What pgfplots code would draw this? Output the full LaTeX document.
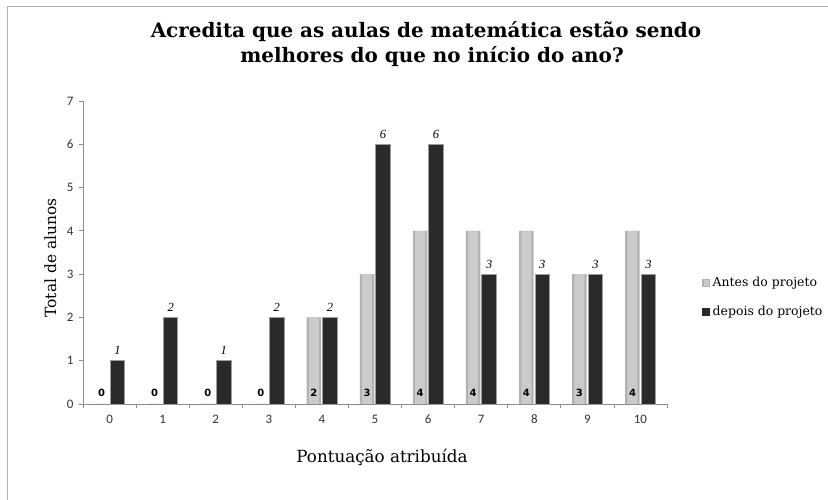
\documentclass[border=0pt]{standalone}
\usepackage{pgfplots}
\pgfplotsset{compat=1.18}
\usepackage{fontspec}
\setmainfont{DejaVu Serif}
\newfontfamily\tickfont{Carlito}
\newfontfamily\valfont{DejaVu Sans}
\newfontfamily\itfont{Liberation Serif}

\definecolor{barEdge}{HTML}{B2B2B2}
\definecolor{barMid}{HTML}{CBCBCB}
\definecolor{barDark}{HTML}{2A2A2A}
\definecolor{darkEdge}{HTML}{9C9C9C}
\definecolor{axisGray}{HTML}{8C8C8C}

\begin{document}
\begin{tikzpicture}[x=1bp,y=1bp]
\useasboundingbox (0,0) rectangle (828,500);
% chart frame
\draw[black!30, line width=0.8bp] (7,-5) -- (7,494) -- (835,494);
% title
\node[anchor=base, font=\bfseries\fontsize{20}{24}\selectfont] at (426,462) {Acredita que as aulas de matemática estão sendo};
\node[anchor=base, font=\bfseries\fontsize{20}{24}\selectfont] at (432,437) {melhores do que no início do ano?};
% axis titles
\node[anchor=base, font=\fontsize{16.8}{20}\selectfont] at (382,37) {Pontuação atribuída};
\node[anchor=base, rotate=90, font=\fontsize{15.5}{18}\selectfont] at (56,242) {Total de alunos};

\begin{axis}[
  at={(83bp,96bp)}, anchor=south west, scale only axis,
  width=584bp, height=303bp,
  xmin=-0.5, xmax=10.5, ymin=0, ymax=7,
  axis x line*=bottom, axis y line*=left,
  axis line style={-, draw=axisGray, line width=0.7bp},
  xtick={-0.5,0.5,...,10.5}, xticklabels={},
  extra x ticks={0,1,...,10},
  extra x tick labels={0,1,2,3,4,5,6,7,8,9,10},
  extra x tick style={major tick length=0pt},
  ytick={0,...,7},
  tick align=outside, major tick length=4bp,
  tick style={draw=axisGray, line width=0.7bp},
  /pgf/number format/assume math mode=true,
  tick label style={font=\tickfont\fontsize{13}{15}\selectfont, text=black!80},
  xticklabel style={font=\tickfont\fontsize{13}{15}\selectfont,
    anchor=base, text height=8bp, text depth=0bp, yshift=-20bp},
  yticklabel style={font=\tickfont\fontsize{13}{15}\selectfont, xshift=-2bp},
  legend style={at={(1.055,0.352)}, anchor=west, draw=none, fill=none,
    font=\fontsize{12.5}{15}\selectfont, row sep=14bp,
    nodes={inner xsep=3bp}},
  legend cell align=left,
  clip=false,
]
\addlegendimage{legend image code/.code={\fill[barEdge] (0bp,-3.5bp) rectangle (7bp,3.5bp);
  \fill[barMid] (1.8bp,-2.5bp) rectangle (5.2bp,2.5bp);}}
\addlegendentry{Antes do projeto}
\addlegendimage{legend image code/.code={\fill[barDark] (0bp,-3.5bp) rectangle (7bp,3.5bp);}}
\addlegendentry{depois do projeto}

% Antes do projeto: outer bar with darker edges
\addplot[ybar, forget plot, bar width=14.5bp, bar shift=-8bp, draw=none, fill=barEdge,
  visualization depends on={y \as \rawy},
  nodes near coords,
  every node near coord/.append style={shift={(axis direction cs:0,-\rawy)},
    anchor=base, yshift=7bp, xshift=-8bp, text=black,
    font=\valfont\bfseries\fontsize{10}{12}\selectfont}]
coordinates {(0,0) (1,0) (2,0) (3,0) (4,2) (5,3) (6,4) (7,4) (8,4) (9,3) (10,4)};
% Antes do projeto: lighter centre strip
\addplot[ybar, forget plot, bar width=10bp, bar shift=-8bp, draw=none, fill=barMid]
coordinates {(0,0) (1,0) (2,0) (3,0) (4,2) (5,3) (6,4) (7,4) (8,4) (9,3) (10,4)};

% depois do projeto
\addplot[ybar, forget plot, bar width=14.5bp, bar shift=8bp,
  fill=barDark, draw=darkEdge, line width=0.9bp,
  nodes near coords,
  every node near coord/.append style={anchor=base, yshift=6bp, xshift=8bp, text=black,
    font=\itfont\itshape\fontsize{12.5}{14}\selectfont}]
coordinates {(0,1) (1,2) (2,1) (3,2) (4,2) (5,6) (6,6) (7,3) (8,3) (9,3) (10,3)};
\end{axis}
\end{tikzpicture}
\end{document}
